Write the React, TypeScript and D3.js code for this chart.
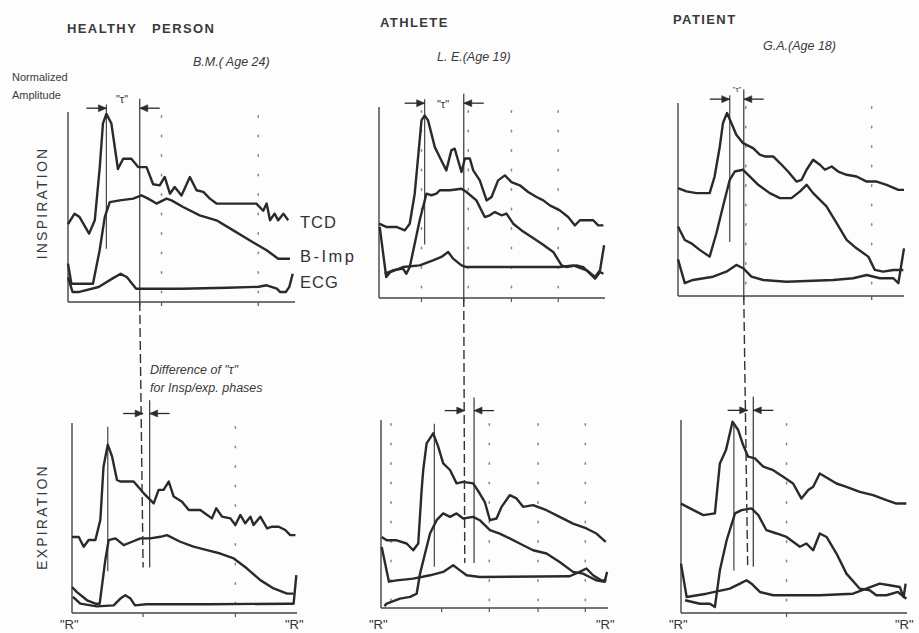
import React from 'react';
import * as d3 from 'd3';

type Pt = [number, number];

// x: % of the R-R interval, y: normalized amplitude (0-100)
const healthyInspTCD: Pt[] = [[0,41],[2.9,46.5],[5.1,44.7],[9.3,36],[11.8,43],[14,71],[15.4,94],[16.9,99],[19.1,94],[22,70],[24.3,75.4],[27.9,75.4],[30.9,71],[34.6,71],[37.5,62],[40.4,61.4],[42.6,65.8],[44.9,57],[47,60.5],[50,56],[53.7,65.8],[56.6,58.8],[59.6,58],[62.5,54.4],[65.4,51.8],[83,51.8],[86,48],[87.5,51.8],[89,43],[91,46.5],[92.6,43],[94.9,46.5],[97,43]];
const healthyInspBImp: Pt[] = [[0,20.2],[1.5,9.6],[11,9.6],[13.9,27],[16.2,44.7],[18.4,52.6],[22.8,53.5],[28.7,54.4],[32.4,56.1],[35.3,54.4],[39,51.8],[43.4,54.4],[45.6,53.5],[50.7,50],[58,45.6],[65.4,43],[72.8,37.7],[80,32.5],[87.5,27.2],[92.6,22.8],[97.8,22.8]];
const healthyInspECG: Pt[] = [[0,13],[2,5.3],[5,5.3],[13.5,7.9],[19.5,12.3],[23.2,14.9],[26,13],[30,7],[50,7],[70,7.5],[84,8],[87.5,8.8],[92,7],[93.4,5.3],[96,5.3],[97.5,8],[99,14.9]];

const healthyExpTCD: Pt[] = [[0,40],[3,40],[5.2,34.9],[7.4,38.4],[10.4,38.4],[12.6,49],[14,77],[15.9,88.6],[17.8,82.4],[20,70],[21.5,69.2],[27.4,69.2],[31.9,63],[36.3,57.7],[38.5,64.8],[40.7,64.8],[43,69.2],[45.2,61.3],[48.9,58.6],[51.9,54.2],[57,54.2],[62.2,49.8],[64.1,55.1],[66.7,50.7],[70.4,49.8],[72.6,46.3],[74.8,51.6],[77,47.2],[79.3,50.7],[80.7,46.3],[83.7,50.7],[86.7,44.5],[88.9,45.4],[91.9,45.4],[94.8,43.7],[97,41],[99.3,41]];
const healthyExpBImp: Pt[] = [[0,13.7],[2.2,11],[6.7,6.7],[10.4,4.9],[12.3,4.9],[14.8,27.8],[16.3,38.4],[19.3,39.3],[23,35.7],[26.7,37.5],[30.4,39.3],[34.8,39.3],[39.3,40.1],[42.2,41],[48.1,37.5],[54,34.9],[60,33.1],[65.9,31.3],[71.9,28.7],[77.8,23.4],[83.7,17.3],[89.6,12.9],[95.6,10.2],[98.5,10.2]];
const healthyExpECG: Pt[] = [[0.4,8.5],[3.7,4.9],[11,3.5],[18.5,4],[21.5,7.6],[23.7,9.3],[26,7.6],[28,4],[33,4.6],[60,4.6],[95.6,4.9],[98.5,4.9],[99.7,19.9]];

const athleteInspTCD: Pt[] = [[0,38.9],[3.2,37.2],[7.7,37.2],[11.4,35.4],[13.6,38.9],[15.8,54.6],[17.3,73.8],[18.8,93],[20.2,95.6],[21.7,93],[24.7,79],[27.6,72],[29.8,66.8],[32,77.3],[33.5,78.2],[35,72],[36.5,66],[38,73],[40.2,73],[41.7,66.8],[44.6,61.6],[47.6,51.1],[49.8,52.9],[52.7,61.6],[55.7,64.2],[58.6,60.7],[62.3,59],[66,55.5],[69.7,52.9],[72.7,51.1],[75.6,48.5],[80,45.9],[83.7,42.4],[86.7,38],[88.9,40.7],[94.8,40.7],[97,38],[99.3,38]];
const athleteInspBImp: Pt[] = [[2.5,12.7],[6.2,14.5],[10.6,15.4],[12.1,12.7],[13.6,16.2],[15.8,28.4],[18,40.7],[21,54.6],[23.2,53.8],[25.4,54.6],[26.9,56.4],[31.3,56.4],[36.5,57.2],[38.7,55.5],[43.1,51.1],[46.8,42.4],[49,43.3],[51.3,45],[54.2,43.3],[56.4,44.2],[59.4,38.9],[63.1,35.4],[67.5,31.9],[72,28.4],[77.1,24.1],[80.8,17.1],[83,16.2],[87.4,17.1],[90.4,16.2],[92.6,13.6],[95.6,10.1],[97.8,13.6],[99.3,12.7]];
const athleteInspECG: Pt[] = [[0.3,37.2],[3.2,11],[5,13.6],[10.6,16.2],[18,17.1],[23.9,19.7],[27.6,21.5],[30.6,24.1],[32.8,20.6],[36.5,17.1],[38.7,16.2],[80,16.2],[85.9,17.1],[91.9,14.5],[95.6,11],[97.8,14.5],[99.6,27.6]];

const athleteExpTCD: Pt[] = [[0.3,37.8],[2.5,36],[6.9,36],[11.3,34.3],[14.2,30.7],[16.4,34.3],[17.9,62.7],[18.6,73.4],[20.1,87.6],[23,92.9],[25.2,85.8],[27.4,76.9],[30.4,73.4],[33.3,66.3],[36.2,67.1],[40.6,66.3],[43.5,60.9],[45.7,56.5],[48,46.7],[50.9,47.6],[53.1,53.8],[56.7,60],[59.7,58.3],[62.6,53.8],[67,54.7],[72.9,52],[78.7,48.5],[84.6,44.9],[90.5,42.3],[94.9,39.6],[99,35.2]];
const athleteExpBImp: Pt[] = [[1.5,1],[2.5,2.3],[8.4,5],[12.8,5.9],[15.7,7.6],[17.2,18.3],[19.4,29],[21.6,39.6],[24.5,46.7],[27.4,50.3],[30.4,48.5],[33.3,50.3],[36.2,47.6],[40.6,48.5],[43.5,46.7],[48,41.4],[52.3,39.6],[56.7,37],[61.1,34.3],[67,30.7],[72.9,29],[78.7,24.5],[84.6,19.2],[89,18.3],[91.9,16.5],[94.9,14.7],[98.5,13.9],[99.6,19.2]];
const athleteExpECG: Pt[] = [[0.3,32.5],[3.5,14],[6.9,14.7],[14.2,15.6],[21.6,17.4],[27.4,19.2],[31.8,22.7],[34.8,20],[37.7,17.4],[43.5,16.5],[83.1,16.9],[87.5,19.2],[90.5,21],[93.4,17.4],[97,14.7],[99.3,14.7]];

const patientInspTCD: Pt[] = [[0,55.9],[3.7,54.2],[8.1,53.3],[14,53.3],[16.2,61.9],[18.5,77.5],[19.9,89.6],[21.7,94.8],[23.6,89.6],[25.8,83.6],[28.8,79.2],[33.2,76.6],[36.2,73.2],[38.4,72.3],[42.1,72.3],[45.1,68.9],[48.7,64.5],[52.4,59.3],[54.7,60.2],[56.9,65.4],[59.8,70.6],[62.8,68],[65,65.4],[68,67.1],[70.9,64.5],[74.6,62.8],[79,61.9],[83.5,59.3],[87.9,59.3],[92.3,57.6],[97.5,55],[100,55]];
const patientInspBImp: Pt[] = [[0,36],[3,29],[5.9,27.3],[9.6,23.9],[14,20.4],[17,32.5],[19.9,46.4],[22.9,60.2],[25.1,64.5],[28.8,65.4],[32.5,61.1],[35.5,57.6],[40.6,53.3],[45.1,50.7],[50.2,50.7],[54,54.2],[56.9,57.6],[59.8,53.3],[65.7,46.4],[70.2,37.7],[74.6,29.1],[79,24.7],[84.2,20.4],[87.1,13.5],[90.8,12.6],[95.3,13.5],[99.7,13.5]];
const patientInspECG: Pt[] = [[0,19],[3,6.7],[6.6,8.3],[15.5,10],[21.4,12.6],[25.8,16.1],[28.8,14.4],[32.5,10],[37.7,8.3],[48,7.4],[68.7,8.3],[77.5,9.2],[83.5,10.9],[89.4,9.2],[95.3,9.2],[97.5,6.6],[100,24.7]];

const patientExpTCD: Pt[] = [[0,56.7],[4,54.2],[9.9,50.7],[15,51.6],[17.2,77.5],[19.9,84.4],[22.8,99.1],[25.3,94.8],[27.5,87],[29.7,81],[32.7,80.1],[36.4,75.8],[40.8,74],[45.2,70.6],[49.6,67.1],[53.3,59.3],[56.3,63.7],[58.5,65.4],[61.4,72.3],[65.1,69.7],[68.8,67.1],[73.2,65.4],[79.1,62.8],[85,61.1],[90.9,58.5],[95.3,56.7],[99.7,56.7]];
const patientExpBImp: Pt[] = [[1.8,6.6],[8.4,4.8],[12.8,4.8],[15,3.1],[17.2,22.1],[20.2,37.7],[23.9,51.6],[26.8,53.3],[31.2,54.2],[34.2,50.7],[37.8,42.9],[42.3,41.2],[46.7,39.4],[52.6,34.3],[55.5,36],[58.5,32.5],[61.4,41.2],[64.4,39.4],[68.8,30.8],[73.2,20.4],[79.1,12.6],[83.5,11.8],[86.4,9.2],[90.9,9.2],[96,10.9],[99.7,7.4]];
const patientExpECG: Pt[] = [[0,25.6],[2.5,8.3],[11.3,10],[21.6,12.6],[26.1,15.2],[29,17],[31.2,15.2],[34.9,10.9],[40.8,9.2],[61.4,9.2],[76.1,10],[87.9,15.2],[92.3,14.4],[96.8,13.5],[98.5,8.3],[99.4,15.2]];

const columnTitles = ['HEALTHY   PERSON', 'ATHLETE', 'PATIENT'];
const subjects = ['B.M.( Age 24)', 'L. E.(Age 19)', 'G.A.(Age 18)'];
const traceLabels = ['TCD', 'B-Imp', 'ECG'];
const phaseLabels = ['INSPIRATION', 'EXPIRATION'];

// peak / "t" marker positions (x in % of R-R)
const inspPeakX = [16.9, 20.2, 22.9];
const inspTauX = [31.6, 37.5, 29.1];
const expPeakX = [15.9, 23.5, 23.4];
const expDashX = [31.6, 36.9, 29.5];
const expTauX = [34.5, 41, 32];
const inspDots = [[41.2, 83.8], [18.8, 39.5, 58.6, 79.3], [30, 85.7]];
const expDots = [[72.6], [4.4, 47.7, 69.2, 90], [46.7]];
const inspTicks = [[31.6, 41.2, 83.8], [18.8, 37.5, 58.6, 79.3], [29.1, 85.7]];
const expTicks = [[31.6, 72.6], [26.7, 47.7, 69.2, 90], [46.7]];

const inspData = [
  [healthyInspTCD, healthyInspBImp, healthyInspECG],
  [athleteInspTCD, athleteInspBImp, athleteInspECG],
  [patientInspTCD, patientInspBImp, patientInspECG],
];
const expData = [
  [healthyExpTCD, healthyExpBImp, healthyExpECG],
  [athleteExpTCD, athleteExpBImp, athleteExpECG],
  [patientExpTCD, patientExpBImp, patientExpECG],
];

// panel frames [x0, x1, yTop, yBottom] - the scan is a bit skewed
const inspFrames = [[68, 295, 112, 302], [379, 605, 107, 298], [678, 904, 103, 296]];
const expFrames = [[72, 297, 423, 613], [381, 608, 420, 608], [681, 907, 420, 613]];

const INK = '#2a2a2a';
const SANS = "'Liberation Sans', Arial, sans-serif";

function scalesFor(f: number[]) {
  const x = d3.scaleLinear().domain([0, 100]).range([f[0], f[1]]);
  const y = d3.scaleLinear().domain([0, 100]).range([f[3], f[2]]);
  return { x, y };
}

function Arrows({ x, y, left, right, ya }: any) {
  const xl = x(left), xr = x(right), yy = y(ya);
  return (
    <g fill={INK} stroke={INK} strokeWidth={1.3}>
      <line x1={xl - 20} x2={xl} y1={yy} y2={yy} />
      <polygon points={`${xl},${yy} ${xl - 8},${yy - 3.5} ${xl - 8},${yy + 3.5}`} strokeWidth={0.5} />
      <line x1={xr} x2={xr + 20} y1={yy} y2={yy} />
      <polygon points={`${xr},${yy} ${xr + 8},${yy - 3.5} ${xr + 8},${yy + 3.5}`} strokeWidth={0.5} />
    </g>
  );
}

function Panel({ frame, series, dots, ticks, children }: any) {
  const { x, y } = scalesFor(frame);
  const line = d3.line<Pt>().x(d => x(d[0])).y(d => y(d[1]));
  return (
    <g>
      {dots.map((d: number, i: number) => (
        <line key={'d' + i} x1={x(d)} x2={x(d)} y1={y(98)} y2={y(0)} stroke="#8a8a8a"
          strokeWidth={1.6} strokeDasharray="1.5 18" strokeLinecap="round" />
      ))}
      <line x1={x(0)} x2={x(0)} y1={y(100)} y2={y(0)} stroke="#444" strokeWidth={1.4} />
      <line x1={x(0)} x2={x(100)} y1={y(0)} y2={y(0)} stroke="#444" strokeWidth={1.6} />
      {ticks.map((t: number, i: number) => (
        <line key={'t' + i} x1={x(t)} x2={x(t)} y1={y(0)} y2={y(0) + 4} stroke="#555" strokeWidth={1.2} />
      ))}
      {children(x, y)}
      {series.map((s: Pt[], i: number) => (
        <path key={'s' + i} d={line(s) || ''} fill="none" stroke={INK} strokeWidth={2.4} strokeLinejoin="round" />
      ))}
    </g>
  );
}

export default function App() {
  const colX = [67, 380, 673];
  const titleY = [33, 27, 24];
  const subX = [193, 437, 763];
  const subY = [66, 61, 50];
  const tauLabelX = [122, 443, 737];
  const tauLabelY = [103, 108, 92];

  return (
    <svg width={919} height={633} style={{ position: 'absolute', left: 0, top: 0, background: '#fff' }}
      fontFamily={SANS}>
      <rect width={919} height={633} fill="#fdfdfd" />
      {columnTitles.map((t, i) => (
        <text key={t} x={colX[i]} y={titleY[i]} fontSize={13} fontWeight="bold" letterSpacing={1.4}
          fill="#3a3a3a" style={{ whiteSpace: 'pre' }}>{t}</text>
      ))}
      {subjects.map((t, i) => (
        <text key={t} x={subX[i]} y={subY[i]} fontSize={12.5} fontStyle="italic" fill="#3a3a3a"
          style={{ whiteSpace: 'pre' }}>{t}</text>
      ))}
      <text x={12} y={81} fontSize={11} fill="#3a3a3a">Normalized</text>
      <text x={12} y={99} fontSize={11} fill="#3a3a3a">Amplitude</text>
      <text transform="translate(47,203) rotate(-90)" textAnchor="middle" fontSize={14} letterSpacing={2.2}
        fill="#3a3a3a">{phaseLabels[0]}</text>
      <text transform="translate(47,517) rotate(-90)" textAnchor="middle" fontSize={14} letterSpacing={2.2}
        fill="#3a3a3a">{phaseLabels[1]}</text>

      {traceLabels.map((t, i) => (
        <text key={t} x={300} y={[228, 262, 288][i]} fontSize={16.5} letterSpacing={t === 'B-Imp' ? 2.5 : 1}
          fill="#333">{t}</text>
      ))}

      <text x={150} y={374} fontSize={12.5} fontStyle="italic" fill="#3a3a3a">Difference of "τ"</text>
      <text x={150} y={392} fontSize={12.5} fontStyle="italic" fill="#3a3a3a">for Insp/exp. phases</text>

      {inspFrames.map((f, i) => {
        const ef = expFrames[i];
        const top = scalesFor(f);
        const bot = scalesFor(ef);
        return (
          <g key={'col' + i}>
            <Panel frame={f} series={inspData[i]} dots={inspDots[i]} ticks={inspTicks[i]}>
              {(x: any, y: any) => (
                <g>
                  <line x1={x(inspPeakX[i])} x2={x(inspPeakX[i])} y1={y(104)} y2={y(28)} stroke="#444" strokeWidth={1.2} />
                  <line x1={x(inspTauX[i])} x2={x(inspTauX[i])} y1={y(107)} y2={y(0)} stroke="#444" strokeWidth={1.3} />
                  <Arrows x={x} y={y} left={inspPeakX[i]} right={inspTauX[i]} ya={102} />
                </g>
              )}
            </Panel>
            <text x={tauLabelX[i]} y={tauLabelY[i]} fontSize={i === 2 ? 8 : 11} textAnchor="middle" fill="#333">"τ"</text>
            <Panel frame={ef} series={expData[i]} dots={expDots[i]} ticks={expTicks[i]}>
              {(x: any, y: any) => (
                <g>
                  <line x1={x(expPeakX[i])} x2={x(expPeakX[i])} y1={y(98)} y2={y(22)} stroke="#444" strokeWidth={1.2} />
                  <line x1={x(expTauX[i])} x2={x(expTauX[i])} y1={y(112)} y2={y(24)} stroke="#444" strokeWidth={1.3} />
                  <Arrows x={x} y={y} left={expDashX[i]} right={expTauX[i]} ya={105} />
                </g>
              )}
            </Panel>
            <line x1={top.x(inspTauX[i])} y1={top.y(0)} x2={bot.x(expDashX[i])} y2={bot.y(24)}
              stroke="#333" strokeWidth={1.4} strokeDasharray="9 4" />
            <text x={bot.x(0) - 12} y={629} fontSize={13} fill="#333">"R"</text>
            <text x={Math.min(bot.x(100) - 12, 896)} y={629} fontSize={13} fill="#333">"R"</text>
          </g>
        );
      })}
    </svg>
  );
}
